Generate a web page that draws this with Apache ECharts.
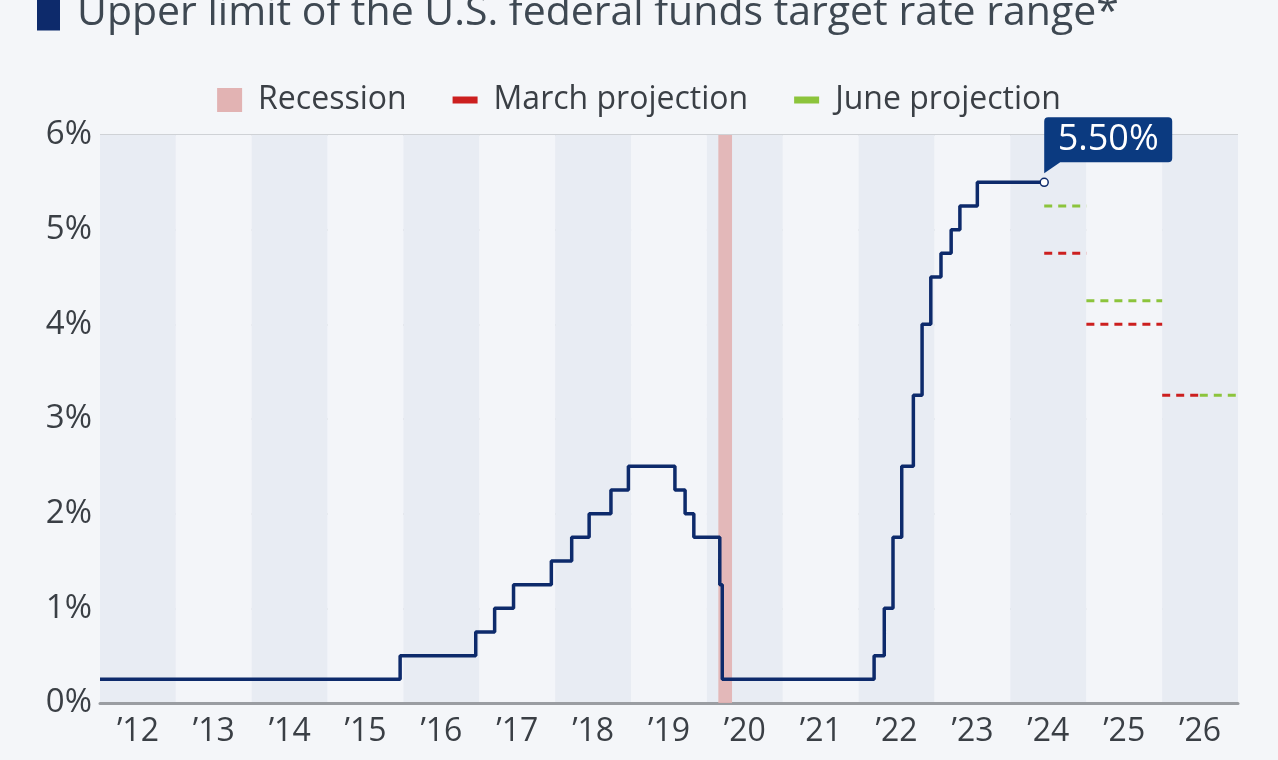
<!DOCTYPE html>
<html>
<head>
<meta charset="utf-8">
<script src="https://cdn.jsdelivr.net/npm/echarts@6/dist/echarts.min.js"></script>
<style>
html,body{margin:0;padding:0;background:#f4f6f9;}
#chart{width:1278px;height:760px;}
</style>
</head>
<body>
<div id="chart"></div>
<script>
// ---- data ----
const yearLabels = ["’12","’13","’14","’15","’16","’17","’18","’19","’20","’21","’22","’23","’24","’25","’26"];
const rateDates = ["2012-01-01","2015-12-16","2016-12-14","2017-03-15","2017-06-14","2017-12-13","2018-03-21","2018-06-13","2018-09-26","2018-12-19","2019-07-31","2019-09-18","2019-10-30","2020-03-03","2020-03-15","2022-03-16","2022-05-04","2022-06-15","2022-07-27","2022-09-21","2022-11-02","2022-12-14","2023-02-01","2023-03-22","2023-05-03","2023-07-26","2024-06-12"];
const rateValues = [0.25,0.50,0.75,1.00,1.25,1.50,1.75,2.00,2.25,2.50,2.25,2.00,1.75,1.25,0.25,0.50,1.00,1.75,2.50,3.25,4.00,4.50,4.75,5.00,5.25,5.50,5.50];
const recessionStart = "2020-02-25";
const recessionEnd = "2020-05-01";
const marchStarts = ["2024-06-12","2025-01-01","2026-01-01"];
const marchEnds   = ["2025-01-01","2026-01-01","2026-07-01"];
const marchValues = [4.75, 4.00, 3.25];
const juneStarts = ["2024-06-12","2025-01-01","2026-07-01"];
const juneEnds   = ["2025-01-01","2026-01-01","2027-01-01"];
const juneValues = [5.25, 4.25, 3.25];
const yTicks = [0,1,2,3,4,5,6];

// ---- styles ----
const FONT = "Open Sans";
const NAVY = "#0d2a6b";
const RED = "#cc1f1f";
const GREEN = "#8cc43c";
const PINK = "#e2b3b3";

const rateData = rateDates.map((d,i)=>[d, rateValues[i]]);
const lastPoint = rateData[rateData.length-1];

function segSeries(name, starts, ends, vals, color){
  return starts.map((s,i)=>({
    name: name, type:'line', xAxisIndex:0, yAxisIndex:0,
    data:[[s, vals[i]],[ends[i], vals[i]]],
    symbol:'none', silent:true,
    lineStyle:{color:color, width:3, type:[8,6]},
    itemStyle:{color:color},
    z:3
  }));
}

const series = [
  {
    name:'Recession', type:'line', xAxisIndex:0, yAxisIndex:0, data:[],
    itemStyle:{color:PINK},
    markArea:{silent:true, itemStyle:{color:PINK, opacity:0.9},
      data:[[{xAxis:recessionStart},{xAxis:recessionEnd}]]}
  },
  ...segSeries('March projection', marchStarts, marchEnds, marchValues, RED),
  ...segSeries('June projection', juneStarts, juneEnds, juneValues, GREEN),
  {
    name:'rate', type:'line', xAxisIndex:0, yAxisIndex:0,
    step:'end', data:rateData,
    lineStyle:{color:NAVY, width:3.5},
    itemStyle:{color:'#ffffff', borderColor:NAVY, borderWidth:1.5},
    symbol:(v,p)=> p.dataIndex===rateData.length-1 ? 'circle':'none',
    symbolSize:8, showSymbol:true, z:5,
    markPoint:{
      silent:true,
      data:[{coord:lastPoint, value:'5.50%'}],
      symbol:'path://M4,0H124Q128,0 128,4V41Q128,45 124,45H16L0,56V4Q0,0 4,0Z',
      symbolSize:[128,56],
      symbolOffset:[64,-37],
      itemStyle:{color:'#0b3a80'},
      label:{show:true, formatter:'5.50%', color:'#ffffff', fontFamily:FONT,
        fontSize:36, offset:[0,-6]}
    }
  }
];

const chart = echarts.init(document.getElementById('chart'), null, {renderer:'canvas'});
chart.setOption({
  backgroundColor:'#f4f6f9',
  animation:false,
  title:{
    text:'{sq|}{t|Upper limit of the U.S. federal funds target rate range*}',
    left:32, top:-12,
    textStyle:{rich:{
      sq:{width:23, height:34, backgroundColor:NAVY},
      t:{fontFamily:FONT, fontSize:41, fontWeight:'normal', color:'#3e4852', padding:[0,0,0,17]}
    }}
  },
  legend:{
    left:'center', top:79, itemGap:46, itemWidth:25, itemHeight:24,
    textStyle:{fontFamily:FONT, fontSize:32, color:'#3a3f45', padding:[0,0,0,11]},
    data:[
      {name:'Recession', icon:'rect', itemStyle:{color:PINK}},
      {name:'March projection', icon:'path://M0,0H25V7H0Z', itemStyle:{color:RED}},
      {name:'June projection', icon:'path://M0,0H25V7H0Z', itemStyle:{color:GREEN}}
    ],
    selectedMode:false
  },
  grid:{left:100, right:40, top:135, bottom:57, containLabel:false},
  xAxis:[
    {type:'time', min:'2012-01-01', max:'2027-01-01', show:false},
    {type:'category', data:yearLabels, boundaryGap:true, position:'bottom',
      axisLine:{show:true, lineStyle:{color:'#9a9da2', width:3}},
      axisTick:{show:false},
      axisLabel:{fontFamily:FONT, fontSize:32, color:'#3a3f45', margin:13},
      splitArea:{show:true, areaStyle:{color:['#e8ecf3','#f3f5f9']}},
      splitLine:{show:false}
    }
  ],
  yAxis:{
    type:'value', min:yTicks[0], max:yTicks[yTicks.length-1], interval:1,
    axisLine:{show:false}, axisTick:{show:false},
    axisLabel:{formatter:'{value}%', fontFamily:FONT, fontSize:33, color:'#3a3f45', margin:8},
    splitLine:{lineStyle:{color:'#cfd2d6', width:2}}
  },
  series:series
});
</script>
</body>
</html>
